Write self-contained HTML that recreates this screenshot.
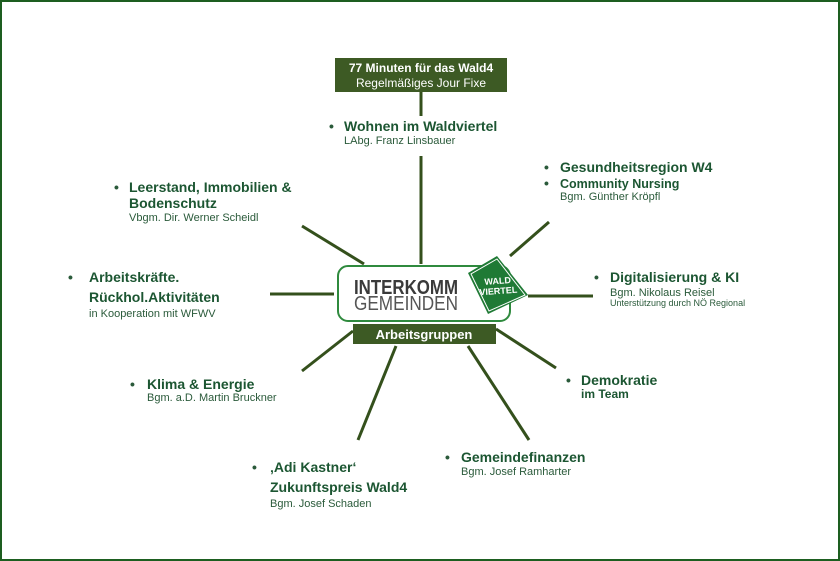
<!DOCTYPE html>
<html><head><meta charset="utf-8"><style>
body{margin:0;background:#fff}
svg{display:block}
text{font-family:"Liberation Sans",Arial,sans-serif}
.t{font-weight:bold;font-size:14px;fill:#1c5632}
.s{font-size:11px;fill:#2a5a3a}
.bl{font-size:14px;font-weight:bold;fill:#2a5a3a}
.b{font-weight:bold;font-size:13px;fill:#1c5632}
</style></head><body>
<svg width="840" height="561" viewBox="0 0 840 561">
<rect x="1" y="1" width="838" height="559" fill="#fff" stroke="#1d5e20" stroke-width="2"/>
<g stroke="#34501c" stroke-width="3" fill="none">
<line x1="421" y1="92" x2="421" y2="116"/>
<line x1="421" y1="156" x2="421" y2="264"/>
<line x1="302" y1="226" x2="364" y2="264"/>
<line x1="549" y1="222" x2="510" y2="256"/>
<line x1="270" y1="294" x2="334" y2="294"/>
<line x1="528" y1="296" x2="593" y2="296"/>
<line x1="302" y1="371" x2="353" y2="331"/>
<line x1="358" y1="440" x2="396" y2="346"/>
<line x1="529" y1="440" x2="468" y2="346"/>
<line x1="556" y1="368" x2="496" y2="329"/>
</g>
<rect x="335" y="58" width="172" height="34" fill="#3d5a24"/>
<text x="421" y="72" text-anchor="middle" font-weight="bold" font-size="12" fill="#fff">77 Minuten für das Wald4</text>
<text x="421" y="87" text-anchor="middle" font-size="12" fill="#fff">Regelmäßiges Jour Fixe</text>
<rect x="338" y="266" width="172" height="55" rx="10" fill="#fff" stroke="#2f8a3e" stroke-width="2"/>
<text x="354" y="294" font-size="20" font-weight="bold" fill="#3a3a3a" textLength="104" lengthAdjust="spacingAndGlyphs">INTERKOMM</text>
<text x="354" y="310" font-size="20" fill="#555" textLength="104" lengthAdjust="spacingAndGlyphs">GEMEINDEN</text>
<polygon points="497,256 528,295 488,314 468,273" fill="#1f7a35"/>
<polygon points="497,259 525,295 489,311 471,274" fill="none" stroke="#fff" stroke-width="1"/>
<g transform="rotate(-4 498 286)">
<text x="498" y="284" text-anchor="middle" font-size="9" font-weight="bold" fill="#fff">WALD</text>
<text x="498" y="294" text-anchor="middle" font-size="9" font-weight="bold" fill="#fff">VIERTEL</text>
</g>
<rect x="353" y="324" width="143" height="20" fill="#3d5a24"/>
<text x="424" y="339" text-anchor="middle" font-size="13" font-weight="bold" fill="#fff">Arbeitsgruppen</text>

<text x="329" y="131" class="bl">•</text>
<text x="344" y="131" class="t">Wohnen im Waldviertel</text>
<text x="344" y="144" class="s">LAbg. Franz Linsbauer</text>

<text x="114" y="192" class="bl">•</text>
<text x="129" y="192" class="t">Leerstand, Immobilien &amp;</text>
<text x="129" y="208" class="t">Bodenschutz</text>
<text x="129" y="221" class="s">Vbgm. Dir. Werner Scheidl</text>

<text x="68" y="282" class="bl">•</text>
<text x="89" y="282" class="t">Arbeitskräfte.</text>
<text x="89" y="302" class="t">Rückhol.Aktivitäten</text>
<text x="89" y="317" class="s">in Kooperation mit WFWV</text>

<text x="130" y="389" class="bl">•</text>
<text x="147" y="389" class="t">Klima &amp; Energie</text>
<text x="147" y="401" class="s">Bgm. a.D. Martin Bruckner</text>

<text x="252" y="472" class="bl">•</text>
<text x="270" y="472" class="t">‚Adi Kastner‘</text>
<text x="270" y="492" class="t">Zukunftspreis Wald4</text>
<text x="270" y="507" class="s">Bgm. Josef Schaden</text>

<text x="445" y="462" class="bl">•</text>
<text x="461" y="462" class="t">Gemeindefinanzen</text>
<text x="461" y="475" class="s">Bgm. Josef Ramharter</text>

<text x="566" y="385" class="bl">•</text>
<text x="581" y="385" class="t">Demokratie</text>
<text x="581" y="398" class="b" style="font-size:12px">im Team</text>

<text x="594" y="282" class="bl">•</text>
<text x="610" y="282" class="t">Digitalisierung &amp; KI</text>
<text x="610" y="296" class="s">Bgm. Nikolaus Reisel</text>
<text x="610" y="306" class="s" style="font-size:9px">Unterstützung durch NÖ Regional</text>

<text x="544" y="172" class="bl">•</text>
<text x="560" y="172" class="t">Gesundheitsregion W4</text>
<text x="544" y="188" class="bl">•</text>
<text x="560" y="188" class="b" style="font-size:12.5px">Community Nursing</text>
<text x="560" y="200" class="s">Bgm. Günther Kröpfl</text>
</svg>
</body></html>
